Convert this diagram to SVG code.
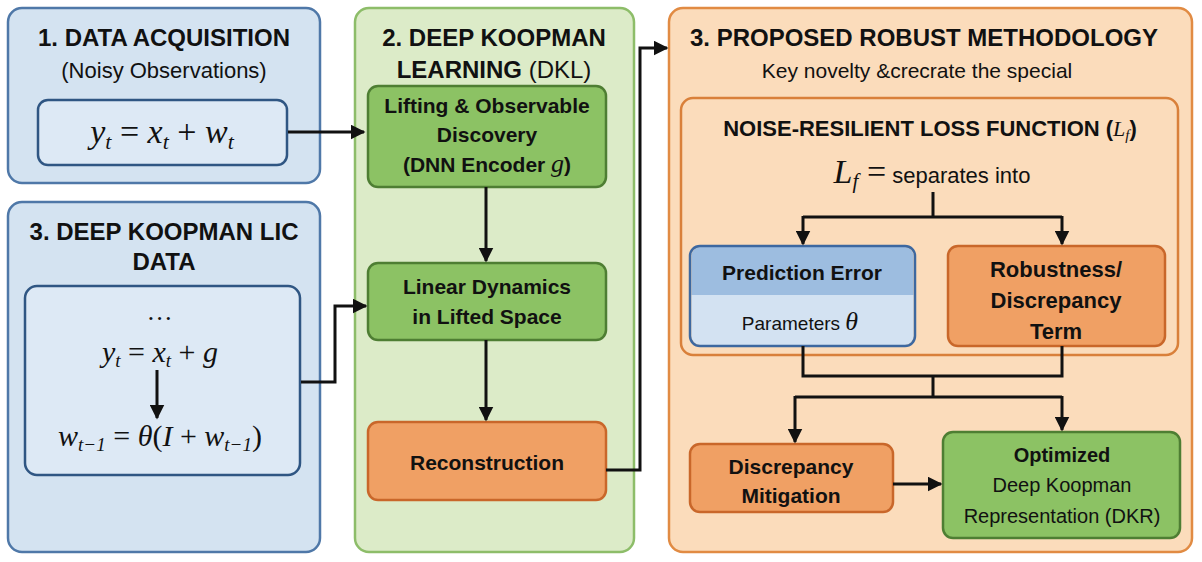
<svg xmlns="http://www.w3.org/2000/svg" width="1202" height="562" viewBox="0 0 1202 562">
<defs>
<marker id="ah" viewBox="0 0 10 10" refX="9" refY="5" markerWidth="5" markerHeight="5" orient="auto"><path d="M0,0L10,5L0,10z" fill="#111"/></marker>
<style>
.t{font-family:"Liberation Sans",Arial,sans-serif;fill:#111;text-anchor:middle}
.b{font-weight:bold}
.m{font-family:"Liberation Serif","DejaVu Serif",serif;font-style:italic;fill:#111;text-anchor:middle}
.s{baseline-shift:-25%}
.c{fill:none;stroke:#111;stroke-width:3}
.blue{fill:#d4e3f1;stroke:#4f78a8;stroke-width:2.5}
.green{fill:#dcebc8;stroke:#8dbd69;stroke-width:2.5}
.gbox{fill:#8cc264;stroke:#4e7e33;stroke-width:2.5}
.obox{fill:#f0a064;stroke:#c9672a;stroke-width:2.5}
.orange{fill:#fbdcbb;stroke:#e18b43;stroke-width:2.5}
</style>
</defs>
<rect width="1202" height="562" fill="#fff"/>
<g id="p1">
<rect class="blue" x="8" y="8" width="312" height="175" rx="14"/>
<text class="t b" x="164" y="46" font-size="24">1. DATA ACQUISITION</text>
<text class="t" x="164" y="78" font-size="22">(Noisy Observations)</text>
<rect x="38" y="100" width="249" height="65" rx="10" fill="#dde9f5" stroke="#2f5683" stroke-width="2.5"/>
<text class="m" x="162" y="143" font-size="34">y<tspan class="s" font-size="22">t</tspan> <tspan font-style="normal">=</tspan> x<tspan class="s" font-size="22">t</tspan> <tspan font-style="normal">+</tspan> w<tspan class="s" font-size="22">t</tspan></text>
</g>
<g id="p3l">
<rect class="blue" x="8" y="202" width="312" height="350" rx="14"/>
<text class="t b" x="164" y="240" font-size="24">3. DEEP KOOPMAN LIC</text>
<text class="t b" x="164" y="270" font-size="24">DATA</text>
<rect x="25" y="286" width="275" height="189" rx="12" fill="#dde9f5" stroke="#2f5683" stroke-width="2.5"/>
<text class="m" x="160" y="320" font-size="26" font-style="normal">…</text>
<text class="m" x="160" y="362" font-size="30">y<tspan class="s" font-size="19">t</tspan> <tspan font-style="normal">=</tspan> x<tspan class="s" font-size="19">t</tspan> <tspan font-style="normal">+</tspan> g</text>
<text class="m" x="160" y="446" font-size="30">w<tspan class="s" font-size="19">t−1</tspan> <tspan font-style="normal">=</tspan> θ<tspan font-style="normal">(</tspan>I <tspan font-style="normal">+</tspan> w<tspan class="s" font-size="19">t−1</tspan><tspan font-style="normal">)</tspan></text>
</g>
<g id="p2">
<rect class="green" x="355" y="8" width="279" height="544" rx="14"/>
<text class="t b" x="494" y="46" font-size="24">2. DEEP KOOPMAN</text>
<text class="t" x="494" y="78" font-size="24"><tspan font-weight="bold">LEARNING</tspan> (DKL)</text>
</g>
<g id="lift">
<rect class="gbox" x="368" y="86" width="238" height="101" rx="10"/>
<text class="t b" x="487" y="113" font-size="21">Lifting &amp; Observable</text>
<text class="t b" x="487" y="142" font-size="21">Discovery</text>
<text class="t b" x="487" y="172" font-size="21">(DNN Encoder <tspan class="m" font-weight="normal" font-size="26">g</tspan>)</text>
</g>
<g id="lin">
<rect class="gbox" x="368" y="263" width="238" height="77" rx="10"/>
<text class="t b" x="487" y="294" font-size="21">Linear Dynamics</text>
<text class="t b" x="487" y="324" font-size="21">in Lifted Space</text>
</g>
<g id="rec">
<rect class="obox" x="368" y="422" width="238" height="78" rx="10"/>
<text class="t b" x="487" y="470" font-size="21">Reconstruction</text>
</g>
<g id="p3r">
<rect class="orange" x="669" y="8" width="523" height="544" rx="14"/>
<text class="t b" x="924" y="46" font-size="24">3. PROPOSED ROBUST METHODOLOGY</text>
<text class="t" x="917" y="78" font-size="21">Key novelty &amp;crecrate the special</text>
<rect x="681" y="98" width="497" height="257" rx="12" fill="#fbdcbb" stroke="#d9803a" stroke-width="2.5"/>
<text class="t b" x="930" y="136" font-size="22">NOISE-RESILIENT LOSS FUNCTION (<tspan class="m" font-weight="normal">L<tspan class="s" font-size="15">f</tspan></tspan>)</text>
<text class="t" x="932" y="183" font-size="22"><tspan class="m" font-size="34">L<tspan class="s" font-size="21">f</tspan> <tspan font-style="normal">=</tspan></tspan> separates into</text>
</g>
<g id="pred">
<path d="M691.5,295H913.5V336a9,9 0 0 1-9,9H700.5a9,9 0 0 1-9-9z" fill="#d3e2f2"/>
<path d="M691.5,295H913.5V256a9,9 0 0 0-9-9H700.5a9,9 0 0 0-9,9z" fill="#9dbde0"/>
<rect x="690" y="246" width="225" height="100" rx="10" fill="none" stroke="#3d68a0" stroke-width="2.5"/>
<text class="t b" x="802" y="280" font-size="21">Prediction Error</text>
<text class="t" x="800" y="330" font-size="19">Parameters <tspan class="m" font-size="26">θ</tspan></text>
</g>
<g id="rob">
<rect class="obox" x="948" y="246" width="217" height="100" rx="10"/>
<text class="t b" x="1056" y="277" font-size="22">Robustness/</text>
<text class="t b" x="1056" y="308" font-size="22">Discrepancy</text>
<text class="t b" x="1056" y="339" font-size="22">Term</text>
</g>
<g id="mit">
<rect class="obox" x="690" y="444" width="203" height="68" rx="10"/>
<text class="t b" x="791" y="474" font-size="21">Discrepancy</text>
<text class="t b" x="791" y="503" font-size="21">Mitigation</text>
</g>
<g id="opt">
<rect class="gbox" x="943" y="432" width="237" height="106" rx="10"/>
<text class="t b" x="1062" y="462" font-size="20">Optimized</text>
<text class="t" x="1062" y="492" font-size="20">Deep Koopman</text>
<text class="t" x="1062" y="523" font-size="20">Representation (DKR)</text>
</g>
<g id="connectors">
<path class="c" d="M288,132H364" marker-end="url(#ah)"/>
<path class="c" d="M486,187V261" marker-end="url(#ah)"/>
<path class="c" d="M486,340V420" marker-end="url(#ah)"/>
<path class="c" d="M157,370V418" marker-end="url(#ah)"/>
<path class="c" d="M301,382H335V306H366" marker-end="url(#ah)"/>
<path class="c" d="M606,470H640V48H667" marker-end="url(#ah)"/>
<path class="c" d="M933,192V217M803,217H1062"/>
<path class="c" d="M803,216V244" marker-end="url(#ah)"/>
<path class="c" d="M1062,216V244" marker-end="url(#ah)"/>
<path class="c" d="M803,346V376H1062V346M933,376V397M795,397H1062"/>
<path class="c" d="M795,396V442" marker-end="url(#ah)"/>
<path class="c" d="M1062,396V430" marker-end="url(#ah)"/>
<path class="c" d="M893,484H941" marker-end="url(#ah)"/>
</g>
</svg>
